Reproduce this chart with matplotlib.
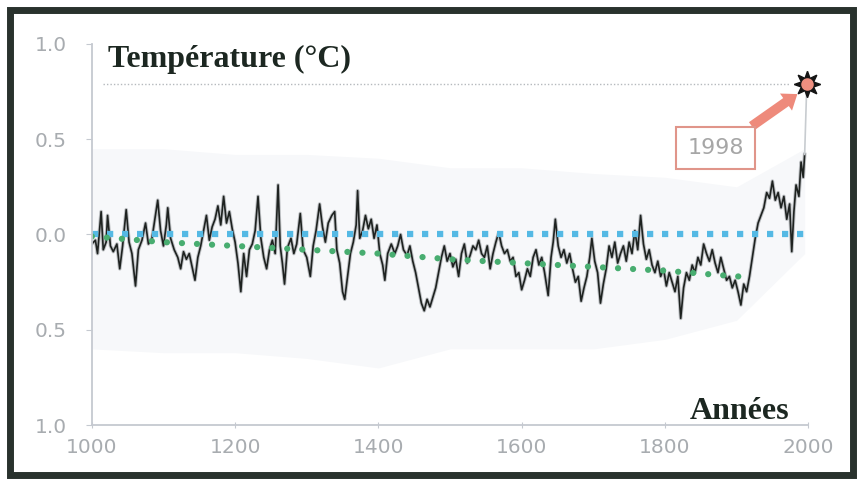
import matplotlib.pyplot as plt
from matplotlib.patches import Rectangle

# reconstructed temperature anomaly
years = [1000, 1005, 1008, 1013, 1016, 1020, 1022, 1026, 1030, 1035, 1039, 1043, 1048, 1052, 1056, 1061,
         1065, 1070, 1075, 1079, 1084, 1088, 1092, 1096, 1100, 1104, 1106, 1110, 1115, 1120, 1124, 1128,
         1132, 1136, 1140, 1144, 1148, 1152, 1156, 1160, 1164, 1168, 1172, 1176, 1180, 1184, 1188, 1192,
         1196, 1200, 1204, 1208, 1212, 1216, 1220, 1224, 1228, 1232, 1236, 1240, 1244, 1248, 1252, 1256,
         1260, 1263, 1266, 1269, 1273, 1278, 1282, 1286, 1291, 1295, 1300, 1305, 1309, 1313, 1318, 1322,
         1326, 1330, 1335, 1339, 1342, 1346, 1350, 1353, 1357, 1361, 1365, 1369, 1371, 1374, 1378, 1382,
         1386, 1390, 1394, 1398, 1402, 1406, 1409, 1413, 1418, 1423, 1427, 1431, 1435, 1440, 1444, 1448,
         1452, 1456, 1460, 1464, 1468, 1472, 1476, 1480, 1484, 1488, 1492, 1496, 1500, 1504, 1508, 1512,
         1516, 1520, 1524, 1528, 1532, 1536, 1540, 1544, 1548, 1552, 1556, 1560, 1564, 1568, 1572, 1576,
         1580, 1584, 1588, 1592, 1596, 1600, 1604, 1608, 1612, 1616, 1620, 1624, 1628, 1632, 1637, 1641,
         1644, 1647, 1651, 1655, 1659, 1663, 1667, 1671, 1675, 1679, 1683, 1687, 1691, 1695, 1698, 1702,
         1706, 1710, 1714, 1718, 1722, 1726, 1730, 1734, 1738, 1742, 1746, 1750, 1754, 1758, 1762, 1766,
         1770, 1774, 1778, 1782, 1786, 1790, 1794, 1798, 1802, 1806, 1810, 1814, 1818, 1822, 1826, 1830,
         1834, 1838, 1842, 1846, 1850, 1854, 1858, 1862, 1866, 1870, 1874, 1878, 1882, 1886, 1890, 1894,
         1898, 1902, 1906, 1910, 1914, 1918, 1922, 1926, 1930, 1934, 1938, 1942, 1946, 1950, 1954, 1958,
         1962, 1966, 1970, 1974, 1977, 1980, 1983, 1987, 1990, 1993, 1995]
temps = [-0.05, -0.03, -0.10, 0.12, -0.08, -0.04, 0.10, -0.06, -0.09, -0.05, -0.18, -0.06, 0.13, -0.04, -0.10, -0.27,
         -0.08, -0.03, 0.06, -0.05, -0.02, 0.08, 0.18, 0.02, -0.06, 0.05, 0.14, -0.02, -0.08, -0.12, -0.18, -0.09,
         -0.13, -0.10, -0.17, -0.24, -0.12, -0.06, 0.02, 0.10, -0.03, 0.04, 0.08, 0.15, 0.05, 0.20, 0.06, 0.12,
         0.03, -0.04, -0.15, -0.30, -0.10, -0.22, -0.08, -0.05, 0.02, 0.20, -0.02, -0.12, -0.18, -0.08, -0.03, -0.10,
         0.26, -0.06, -0.15, -0.26, -0.07, -0.02, -0.10, -0.05, 0.11, -0.08, -0.12, -0.22, -0.06, 0.02, 0.16, 0.04,
         -0.04, 0.06, 0.10, 0.12, -0.08, -0.15, -0.30, -0.34, -0.22, -0.10, -0.04, 0.05, 0.23, -0.02, 0.02, 0.10,
         0.03, 0.08, -0.02, 0.05, -0.10, -0.16, -0.24, -0.10, -0.05, -0.10, -0.06, 0.00, -0.08, -0.11, -0.06, -0.14,
         -0.20, -0.28, -0.36, -0.40, -0.34, -0.38, -0.33, -0.28, -0.20, -0.12, -0.06, -0.14, -0.10, -0.17, -0.13, -0.22,
         -0.10, -0.05, -0.15, -0.11, -0.06, -0.08, -0.03, -0.10, -0.12, -0.06, -0.18, -0.10, -0.04, 0.01, -0.06, -0.10,
         -0.08, -0.14, -0.12, -0.22, -0.20, -0.29, -0.24, -0.18, -0.22, -0.12, -0.08, -0.16, -0.12, -0.20, -0.32, -0.12,
         -0.04, 0.08, -0.06, -0.12, -0.08, -0.15, -0.10, -0.18, -0.25, -0.22, -0.35, -0.28, -0.22, -0.12, -0.02, -0.14,
         -0.20, -0.36, -0.26, -0.18, -0.06, -0.12, -0.04, -0.15, -0.10, -0.06, -0.14, -0.04, -0.10, 0.02, -0.08, 0.10,
         -0.05, -0.13, -0.08, -0.16, -0.20, -0.14, -0.22, -0.18, -0.27, -0.20, -0.25, -0.30, -0.22, -0.44, -0.28, -0.20,
         -0.24, -0.16, -0.20, -0.12, -0.16, -0.05, -0.10, -0.14, -0.08, -0.15, -0.20, -0.12, -0.18, -0.24, -0.22, -0.28,
         -0.24, -0.30, -0.37, -0.26, -0.30, -0.22, -0.12, -0.02, 0.06, 0.10, 0.14, 0.22, 0.19, 0.28, 0.18, 0.22,
         0.14, 0.20, 0.08, 0.16, -0.09, 0.12, 0.26, 0.20, 0.38, 0.30, 0.42]

# instrumental end to the 1998 peak
inst_years = [1995, 1998]
inst_temps = [0.42, 0.79]

# faint uncertainty envelope
band_years = [1000, 1100, 1200, 1300, 1400, 1500, 1600, 1700, 1800, 1900, 1995]
band_upper = [0.45, 0.45, 0.42, 0.42, 0.40, 0.35, 0.35, 0.32, 0.30, 0.25, 0.45]
band_lower = [-0.60, -0.62, -0.62, -0.65, -0.70, -0.60, -0.60, -0.60, -0.55, -0.45, -0.10]

# cooling trend (green dots)
trend_years = [1000, 1100, 1200, 1300, 1400, 1500, 1600, 1700, 1800, 1900, 1920]
trend_temps = [-0.01, -0.04, -0.06, -0.08, -0.10, -0.13, -0.15, -0.17, -0.19, -0.22, -0.22]

peak_year = 1998
peak_temp = 0.79

fig = plt.figure(figsize=(8.58, 4.82), dpi=100)
ax = fig.add_axes([0.107, 0.118, 0.835, 0.791])

ax.fill_between(band_years, band_lower, band_upper, color='#f7f8fa', lw=0)
ax.plot([1016, 1975], [peak_temp, peak_temp], color='#b5b9bd', lw=1, linestyle=(0, (1, 1.5)))

ax.plot(years, temps, color='#8e9296', lw=2.6, alpha=0.55)
ax.plot(years, temps, color='#1e2220', lw=1.2)
ax.plot(inst_years, inst_temps, color='#c8ccd0', lw=1.2)

ax.plot([1000, 1995], [0, 0], color='#55b9e4', lw=4.5, linestyle=(0, (1, 1.4)), dash_capstyle='butt')
ax.plot(trend_years, trend_temps, color='#48ad70', lw=4.5, linestyle=(0, (0.01, 2.4)), dash_capstyle='round')

ax.plot(peak_year, peak_temp, marker=(8, 1, 0), markersize=19, color='#151515', clip_on=False)
ax.plot(peak_year, peak_temp, marker='o', markersize=8, color='#ef8f80', clip_on=False)

ax.annotate('', xy=(1988, 0.745), xytext=(1918, 0.56),
            arrowprops=dict(arrowstyle='simple,head_length=1.0,head_width=1.5,tail_width=0.7',
                            color='#ee8a7b', lw=0))
ax.text(1871, 0.453, '1998', ha='center', va='center', fontsize=16, color='#a6a6a6',
        bbox=dict(boxstyle='square,pad=0.5', fc='white', ec='#e0958a', lw=1.5))

ax.text(1022, 0.88, 'Température (°C)', fontsize=23, fontweight='bold',
        family='Liberation Serif', color='#1c2721')
ax.text(1974, -0.97, 'Années', fontsize=23, fontweight='bold', ha='right',
        family='Liberation Serif', color='#1c2721')

ax.set_xlim(1000, 2000)
ax.set_ylim(-1.0, 1.0)
ax.set_xticks([1000, 1200, 1400, 1600, 1800, 2000])
ax.set_yticks([1.0, 0.5, 0.0, -0.5, -1.0])
ax.set_yticklabels(['1.0', '0.5', '0.0', '0.5', '1.0'])
for s in ['top', 'right']:
    ax.spines[s].set_visible(False)
for s in ['left', 'bottom']:
    ax.spines[s].set_color('#c5c9d0')
    ax.spines[s].set_linewidth(1.3)
ax.tick_params(axis='both', colors='#c5c9d0', labelcolor='#a8acb0', labelsize=14.5, length=4)
ax.tick_params(axis='y', pad=14)
ax.tick_params(axis='x', pad=7, direction='inout')

fig.patches.append(Rectangle((0.012, 0.015), 0.982, 0.965, transform=fig.transFigure,
                             fill=False, ec='#29322d', lw=5))

plt.savefig('out.png', dpi=100)
